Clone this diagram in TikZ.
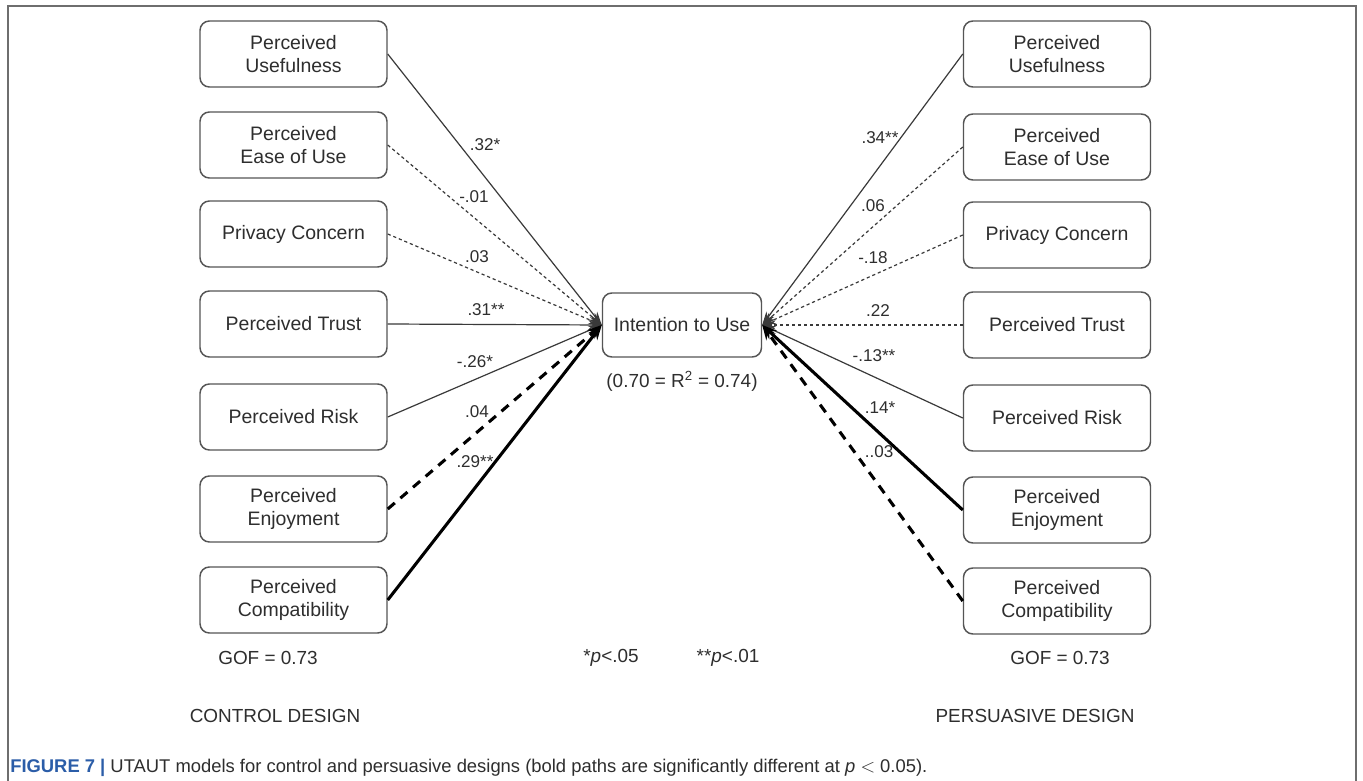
\documentclass[tikz,border=0pt]{standalone}
\usepackage{fontspec}
\setmainfont{Liberation Sans}
\newfontfamily\capfont{Liberation Sans}
\usetikzlibrary{arrows.meta}
\definecolor{boxline}{HTML}{555555}
\definecolor{txt}{HTML}{2E2E2E}
\definecolor{pathgray}{HTML}{3A3A3A}
\definecolor{figblue}{HTML}{2B5DA8}
\definecolor{framegray}{HTML}{6E6E6E}

\begin{document}
\begin{tikzpicture}[x=0.75pt,y=-0.75pt,
  construct/.style={draw=boxline, line width=1.1pt, rounded corners=7pt,
    minimum width=140.25pt, minimum height=49.5pt, align=center,
    font=\fontsize{14.6}{17.3}\selectfont, text=txt, inner sep=0pt},
  outcome/.style={construct, minimum width=119.25pt, minimum height=48pt},
  coef/.style={font=\fontsize{12.8}{14}\selectfont, text=txt, inner sep=0pt},
  note/.style={font=\fontsize{14.2}{17}\selectfont, text=txt, inner sep=0pt},
  thinpath/.style={draw=pathgray, line width=0.9pt, -{Stealth[length=10pt,width=7pt]}},
  finepath/.style={thinpath, dash pattern=on 2.4pt off 2.1pt},
  boldpath/.style={draw=black, line width=2.3pt, -{Stealth[length=11pt,width=8.5pt]}},
  bolddash/.style={boldpath, dash pattern=on 7pt off 5.5pt}]

\useasboundingbox (0,0) rectangle (1363,781);
\fill[white] (0,0) rectangle (1363,781);

% outer frame, open at the bottom
\draw[framegray, line width=1.5pt] (7.5,781) -- (7.5,6.5) -- (1356,6.5) -- (1356,781);

% central construct
\node[outcome] (int) at (682,325) {Intention to Use};
\node[note] (rsq) at (682,381) {(0.70 = R\textsuperscript{2} = 0.74)};

% control design constructs
\node[construct] (cu) at (293.5,54)  {Perceived\\Usefulness};
\node[construct] (ce) at (293.5,145) {Perceived\\Ease of Use};
\node[construct] (cp) at (293.5,234) {Privacy Concern};
\node[construct] (ct) at (293.5,324) {Perceived Trust};
\node[construct] (cr) at (293.5,417) {Perceived Risk};
\node[construct] (cj) at (293.5,509) {Perceived\\Enjoyment};
\node[construct] (cc) at (293.5,600) {Perceived\\Compatibility};

% persuasive design constructs
\node[construct] (pu) at (1057,54)  {Perceived\\Usefulness};
\node[construct] (pe) at (1057,147) {Perceived\\Ease of Use};
\node[construct] (pp) at (1057,235) {Privacy Concern};
\node[construct] (pt) at (1057,325) {Perceived Trust};
\node[construct] (pr) at (1057,418) {Perceived Risk};
\node[construct] (pj) at (1057,510) {Perceived\\Enjoyment};
\node[construct] (pc) at (1057,601) {Perceived\\Compatibility};

% control design paths
\draw[thinpath] (cu.east) -- (int.west);
\draw[finepath] (ce.east) -- (int.west);
\draw[finepath] (cp.east) -- (int.west);
\draw[thinpath] (ct.east) -- (int.west);
\draw[thinpath] (cr.east) -- (int.west);
\draw[bolddash] (cj.east) -- (int.west);
\draw[boldpath] (cc.east) -- (int.west);

% persuasive design paths
\draw[thinpath] (pu.west) -- (int.east);
\draw[finepath] (pe.west) -- (int.east);
\draw[finepath] (pp.west) -- (int.east);
\draw[finepath] (pt.west) -- (int.east);
\draw[thinpath] (pr.west) -- (int.east);
\draw[boldpath] (pj.west) -- (int.east);
\draw[bolddash] (pc.west) -- (int.east);

% path coefficients, control design
\node[coef] (lcu) at (485,145) {.32*};
\node[coef] (lce) at (474,197) {-.01};
\node[coef] (lcp) at (477,257) {.03};
\node[coef] (lct) at (486,310) {.31**};
\node[coef] (lcr) at (475,362) {-.26*};
\node[coef] (lcj) at (477,412) {.04};
\node[coef] (lcc) at (475,462) {.29**};

% path coefficients, persuasive design
\node[coef] (lpu) at (880,138) {.34**};
\node[coef] (lpe) at (873,206) {.06};
\node[coef] (lpp) at (873,258) {-.18};
\node[coef] (lpt) at (878,311) {.22};
\node[coef] (lpr) at (874,356) {-.13**};
\node[coef] (lpj) at (880,408) {.14*};
\node[coef] (lpc) at (879,452) {..03};

% fit and significance notes
\node[note] (gofc) at (268,658) {GOF = 0.73};
\node[note] (gofp) at (1060,658) {GOF = 0.73};
\node[note] (sig1) at (611,658) {*\textit{p}<.05};
\node[note] (sig2) at (728,658) {**\textit{p}<.01};
\node[note] (ctl) at (275,716) {CONTROL DESIGN};
\node[note] (per) at (1035,716) {PERSUASIVE DESIGN};

% caption
\node[anchor=west, inner sep=0pt, text=txt] (cap) at (10,768)
  {\capfont\fontsize{13.8}{16}\selectfont\textbf{\color{figblue}FIGURE 7 |} UTAUT models for control and persuasive designs (bold paths are significantly different at \textit{p} $<$ 0.05).};
\end{tikzpicture}
\end{document}
